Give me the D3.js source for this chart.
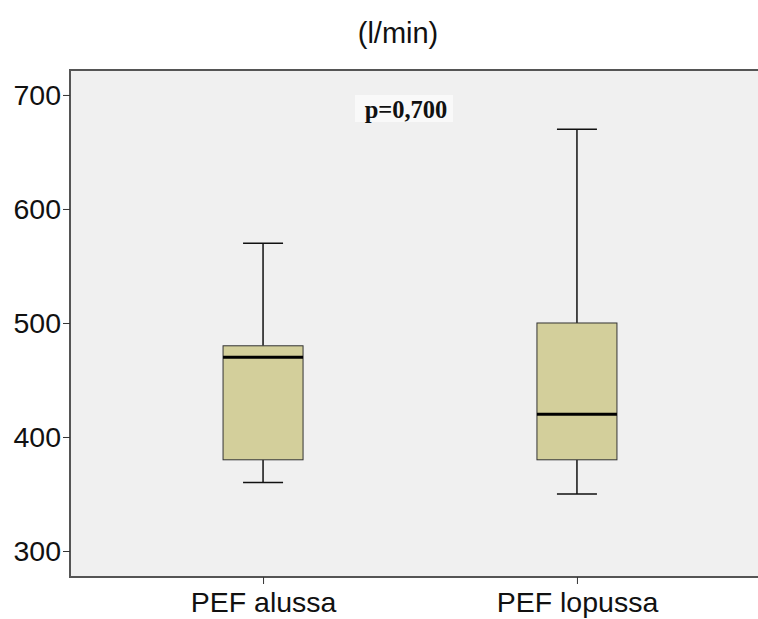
<!DOCTYPE html>
<html>
<head>
<meta charset="utf-8">
<script src="https://cdn.jsdelivr.net/npm/d3@7"></script>
<style>
  html, body { margin: 0; padding: 0; background: #ffffff; overflow: hidden; }
  svg { display: block; }
</style>
</head>
<body>
<svg id="chart" width="758" height="619"></svg>
<script>
const categories = ["PEF alussa", "PEF lopussa"];
const whiskerLow = [360, 350];
const q1 = [380, 380];
const medians = [470, 420];
const q3 = [480, 500];
const whiskerHigh = [570, 670];
const yTicks = [300, 400, 500, 600, 700];
const titleText = "(l/min)";
const pText = "p=0,700";

const svg = d3.select("#chart");
const pLeft = 70, pRight = 770, pTop = 70, pBottom = 577;
const frameRight = 820; // plot frame runs off the right edge of the picture

const y = d3.scaleLinear().domain([277.2, 721.9]).range([pBottom, pTop]);
const x = d3.scalePoint().domain(categories).range([pLeft, pRight]).padding(0.615);

svg.append("rect")
  .attr("x", pLeft).attr("y", pTop)
  .attr("width", frameRight - pLeft).attr("height", pBottom - pTop)
  .attr("fill", "#f0f0f0");

const data = categories.map((c, i) => ({
  c, lo: whiskerLow[i], q1: q1[i], med: medians[i], q3: q3[i], hi: whiskerHigh[i]
}));

const boxW = 80, capW = 40;
const g = svg.append("g");
data.forEach(d => {
  const cx = x(d.c);
  g.append("line").attr("x1", cx).attr("x2", cx)
    .attr("y1", y(d.hi)).attr("y2", y(d.q3))
    .attr("stroke", "#111").attr("stroke-width", 1.5);
  g.append("line").attr("x1", cx).attr("x2", cx)
    .attr("y1", y(d.q1)).attr("y2", y(d.lo))
    .attr("stroke", "#111").attr("stroke-width", 1.5);
  [d.hi, d.lo].forEach(v => {
    g.append("line").attr("x1", cx - capW / 2).attr("x2", cx + capW / 2)
      .attr("y1", y(v)).attr("y2", y(v))
      .attr("stroke", "#111").attr("stroke-width", 1.5);
  });
  g.append("rect")
    .attr("x", cx - boxW / 2).attr("width", boxW)
    .attr("y", y(d.q3)).attr("height", y(d.q1) - y(d.q3))
    .attr("fill", "#d3cf9b").attr("stroke", "#333").attr("stroke-width", 1);
  g.append("line").attr("x1", cx - boxW / 2).attr("x2", cx + boxW / 2)
    .attr("y1", y(d.med)).attr("y2", y(d.med))
    .attr("stroke", "#000").attr("stroke-width", 3);
});

svg.append("rect")
  .attr("x", pLeft).attr("y", pTop)
  .attr("width", frameRight - pLeft).attr("height", pBottom - pTop)
  .attr("fill", "none").attr("stroke", "#555").attr("stroke-width", 2);

const yAxis = svg.append("g")
  .attr("transform", `translate(${pLeft},0)`)
  .call(d3.axisLeft(y).tickValues(yTicks).tickSize(7).tickPadding(2).tickFormat(d3.format("d")));
yAxis.select(".domain").remove();
yAxis.selectAll(".tick line").attr("stroke", "#333").attr("stroke-width", 1);
yAxis.selectAll(".tick text")
  .attr("font-family", "Liberation Sans, Arial, sans-serif")
  .attr("font-size", 28.5).attr("fill", "#111");

const xAxis = svg.append("g")
  .attr("transform", `translate(0,${pBottom})`)
  .call(d3.axisBottom(x).tickSize(7).tickPadding(8));
xAxis.select(".domain").remove();
xAxis.selectAll(".tick line").attr("stroke", "#333").attr("stroke-width", 1);
xAxis.selectAll(".tick text")
  .attr("font-family", "Liberation Sans, Arial, sans-serif")
  .attr("font-size", 28.5).attr("fill", "#111");

svg.append("text")
  .attr("x", 398).attr("y", 43)
  .attr("text-anchor", "middle")
  .attr("font-family", "Liberation Sans, Arial, sans-serif")
  .attr("font-size", 29).attr("fill", "#111")
  .text(titleText);

const pLabel = svg.append("g");
pLabel.append("rect")
  .attr("x", 355).attr("y", 95).attr("width", 98).attr("height", 27)
  .attr("fill", "#ffffff").attr("opacity", 0.6);
pLabel.append("text")
  .attr("x", 406).attr("y", 118)
  .attr("text-anchor", "middle")
  .attr("font-family", "Liberation Serif, Times New Roman, serif")
  .attr("font-weight", "bold")
  .attr("font-size", 24.5).attr("fill", "#111")
  .text(pText);
</script>
</body>
</html>
